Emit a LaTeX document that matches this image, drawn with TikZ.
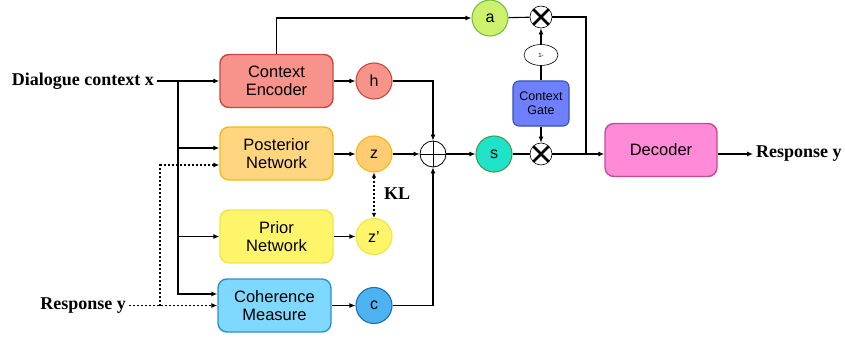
\documentclass[tikz,border=0pt]{standalone}
\usepackage{fontspec}
\setmainfont{Liberation Serif}
\setsansfont{Liberation Sans}
\usetikzlibrary{arrows.meta, shapes.geometric}

\definecolor{encfill}{HTML}{F8938B}
\definecolor{encdraw}{HTML}{C9473F}
\definecolor{postfill}{HTML}{FFD57F}
\definecolor{postdraw}{HTML}{F5B914}
\definecolor{priorfill}{HTML}{FFF56A}
\definecolor{priordraw}{HTML}{F2E445}
\definecolor{cohfill}{HTML}{7FD8FF}
\definecolor{cohdraw}{HTML}{2D8FD0}
\definecolor{cfill}{HTML}{4DB2F2}
\definecolor{cdraw}{HTML}{1C6FB0}
\definecolor{sfill}{HTML}{1FE3C9}
\definecolor{sdraw}{HTML}{3BA050}
\definecolor{afill}{HTML}{CDF06E}
\definecolor{adraw}{HTML}{74C043}
\definecolor{gatefill}{HTML}{6E80FF}
\definecolor{gatedraw}{HTML}{3452B0}
\definecolor{decfill}{HTML}{FF8AD8}
\definecolor{decdraw}{HTML}{C54A92}

\begin{document}
\begin{tikzpicture}[x=1pt, y=-1pt,
    box/.style={draw, line width=1.4, rounded corners=9, minimum width=113, minimum height=53,
        align=center, font=\sffamily\fontsize{16.5}{18.5}\selectfont},
    var/.style={circle, draw, line width=1.1, minimum size=36, inner sep=0,
        font=\sffamily\fontsize{16}{18}\selectfont},
    mult/.style={circle, draw, line width=0.6, fill=white, minimum size=22, inner sep=0,
        path picture={\draw[line width=2.6]
            (path picture bounding box.north west) -- (path picture bounding box.south east)
            (path picture bounding box.north east) -- (path picture bounding box.south west);}},
    lbl/.style={font=\bfseries\fontsize{18}{20}\selectfont, inner sep=3},
    arr/.style={-{Latex[length=6,width=5]}, line width=1.1},
    dot/.style={dash pattern=on 2pt off 2pt, line width=1.1}]
    \useasboundingbox (0,0) rectangle (845,342);

    % input labels
    \node[lbl, anchor=east] (ctx) at (157,81) {Dialogue context x};
    \node[lbl, anchor=east] (resp) at (129,305.5) {Response y};

    % networks
    \node[box, fill=encfill, draw=encdraw] (enc) at (276.5,81) {Context\\Encoder};
    \node[box, fill=postfill, draw=postdraw] (post) at (276.5,153.5) {Posterior\\Network};
    \node[box, fill=priorfill, draw=priordraw] (prior) at (276.5,236.5) {Prior\\Network};
    \node[box, fill=cohfill, draw=cohdraw] (coh) at (274.5,305.5) {Coherence\\Measure};

    % latent variables
    \node[var, fill=encfill, draw=encdraw] (h) at (374,81) {h};
    \node[var, fill=postfill!90!orange, draw=postdraw] (z) at (374,154) {z};
    \node[var, fill=priorfill, draw=priordraw] (zp) at (374,236.5) {z'};
    \node[var, fill=cfill, draw=cdraw] (c) at (374,305.5) {c};
    \node[lbl] (kl) at (397,194) {KL};

    \node[circle, draw, line width=0.8, minimum size=26, inner sep=0,
        path picture={\draw[line width=0.8]
            (path picture bounding box.north) -- (path picture bounding box.south)
            (path picture bounding box.west) -- (path picture bounding box.east);}] (op) at (433,154) {};
    \node[var, fill=sfill, draw=sdraw] (s) at (494,154) {s};
    \node[var, fill=afill, draw=adraw] (a) at (490,18) {a};

    % gate
    \node[draw=gatedraw, fill=gatefill, line width=1.1, rounded corners=6, minimum width=56,
        minimum height=45, align=center, font=\sffamily\fontsize{12.5}{14}\selectfont] (gate) at (541,103.5) {Context\\Gate};
    \node[ellipse, draw, line width=0.6, minimum width=34, minimum height=21, inner sep=0,
        font=\sffamily\fontsize{6}{7}\selectfont] (om) at (541,55) {1-};
    \node[mult] (t1) at (541,17) {};
    \node[mult] (t2) at (541,154) {};

    % decoder
    \node[box, fill=decfill, draw=decdraw, minimum width=112] (dec) at (661,150) {Decoder};
    \node[lbl, anchor=west] (out) at (753,154) {Response y};

    \coordinate (j) at (178,81);
    \coordinate (k) at (160,305.5);
    \coordinate (m) at (586,154);

    % context x to the networks
    \draw[arr] (ctx.east) -- (enc.west);
    \draw[arr] (j) |- ([yshift=5.5]post.west);
    \draw[arr] (j) |- (prior.west);
    \draw[arr] (j) |- ([yshift=11.5]coh.west);

    % response y to the networks
    \draw[arr, dot] (resp.east) -- (coh.west);
    \draw[arr, dot] (k) |- ([yshift=-11.5]post.west);

    \draw[arr] (enc) -- (h);
    \draw[arr] (post.east |- z) -- (z);
    \draw[arr] (prior.east |- zp) -- (zp);
    \draw[arr] (coh) -- (c);
    \draw[dot, {Latex[length=5,width=4.5]}-{Latex[length=5,width=4.5]}] (z) -- (zp);

    \draw[arr] (h) -| (op);
    \draw[arr] (c) -| (op);
    \draw[arr] (z) -- (op);
    \draw[arr] (op) -- (s);
    \draw[line width=1.1] (s) -- (t2);

    \draw[arr] (enc.north) |- (a);
    \draw[line width=1.1] (a) -- (t1);
    \draw[arr] (gate) -- (t2);
    \draw[line width=1.1] (gate) -- (om);
    \draw[arr] (om) -- (t1);

    \draw[line width=1.1] (t1) -| (m);
    \draw[arr] (t2) -- (t2 -| dec.west);
    \draw[arr] (dec.east |- out) -- (out.west);
\end{tikzpicture}
\end{document}
